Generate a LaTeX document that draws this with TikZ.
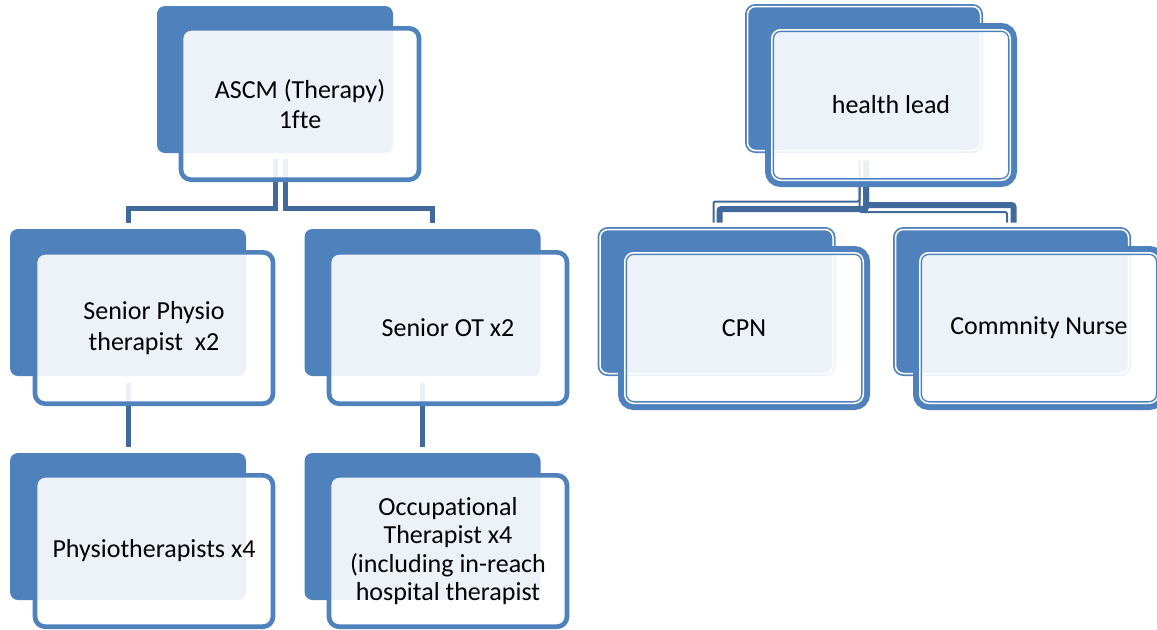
\documentclass[tikz,border=0pt]{standalone}
\usepackage{fontspec}
\setmainfont{Carlito}[Ligatures=NoCommon]
\usetikzlibrary{calc}
\definecolor{acc}{HTML}{4F81BD}
\definecolor{connc}{HTML}{41699C}
\tikzset{
  backL/.style={fill=acc, draw=none, rounded corners=6pt, minimum width=177pt, minimum height=110.25pt, inner sep=0pt, outer sep=0pt},
  frontL/.style={draw=acc, line width=3.5pt, fill=white, fill opacity=0.9, text opacity=1, rounded corners=7.5pt, minimum width=178.5pt, minimum height=113.5pt, inner sep=0pt, outer sep=0pt, align=center, font=\fontsize{19.5}{23}\selectfont},
  backR/.style={fill=acc, draw=acc, double=white, double distance=1.125pt, line width=1.3125pt, rounded corners=6pt, minimum width=174.75pt, minimum height=108pt, inner sep=0pt, outer sep=0pt},
  frontR/.style={draw=acc, line width=6.75pt, fill=white, fill opacity=0.9, text opacity=1, rounded corners=8.25pt, minimum width=182.25pt, minimum height=116.25pt, inner sep=0pt, outer sep=0pt, align=center, font=\fontsize{19.5}{23}\selectfont},
  innerline/.style={draw=white, line width=1.125pt, rounded corners=6.75pt},
  connL/.style={draw=connc, line width=3.75pt},
  connThick/.style={draw=connc, line width=4.5pt, rounded corners=1.5pt},
  connThin/.style={draw=connc, line width=1.5pt, rounded corners=1.5pt},
}
\begin{document}
\begin{tikzpicture}[x={(0.75pt,0)}, y={(0,-0.75pt)}]
\useasboundingbox (0,0) rectangle (1157,629);
\clip (0,0) rectangle (1157,629);
% ---------- back boxes ----------
\node[backL] (b1) at (275,79.5) {};
\node[backL] (b2) at (128,302.5) {};
\node[backL] (b3) at (422.5,302.5) {};
\node[backL] (b4) at (128,526.5) {};
\node[backL] (b5) at (422.5,526.5) {};
\node[backR] (hb) at (864,78.5) {};
\node[backR] (cb) at (716.5,301.5) {};
\node[backR] (nb) at (1012,301.5) {};
% ---------- connectors (left) ----------
\draw[connL] ($(b1.south)+(0.5,6)$) |- ($(b2.north)+(0,-21)$) -- ($(b2.north)+(0,-6)$);
\draw[connL] ($(b1.south)+(10,6)$) |- ($(b3.north)+(10,-21)$) -- ($(b3.north)+(10,-6)$);
\draw[connL] ($(b2.south)+(0,7)$) -- ($(b4.north)+(0,-6)$);
\draw[connL] ($(b3.south)+(0,7)$) -- ($(b5.north)+(0,-6)$);
% ---------- connectors (right) ----------
\draw[connThin] ($(hb.south)+(-4.5,10)$) |- ($(nb.north)+(-5,-17.5)$) -- ($(nb.north)+(-5,-7)$);
\draw[connThick] ($(hb.south)+(2,10)$) |- ($(nb.north)+(1.5,-24.5)$) -- ($(nb.north)+(1.5,-7)$);
\draw[connThin] ($(hb.south)+(-4.5,10)$) |- ($(cb.north)+(-3,-28)$) -- ($(cb.north)+(-3,-7)$);
\draw[connThick] ($(hb.south)+(2,10)$) |- ($(cb.north)+(3,-20.5)$) -- ($(cb.north)+(3,-7)$);
% ---------- front boxes ----------
\node[frontL] (f1) at (300,104) {ASCM (Therapy)\\1fte};
\node[frontL] (f2) at (154,328) {Senior Physio\\therapist\ \ x2};
\node[frontL] (f3) at (448,328) {Senior OT x2};
\node[frontL] (f4) at (154,551) {Physiotherapists x4};
\node[frontL, font=\fontsize{19.5}{21.4}\selectfont] (f5) at (448,551) {Occupational\\Therapist x4\\(including in-reach\\hospital therapist};
\node[frontR] (hf) at (891,105) {health lead};
\node[frontR] (cf) at (744,328) {CPN};
\node[frontR] (nf) at (1039,328) {Commnity Nurse};
\foreach \n in {hf,cf,nf}
  \draw[innerline] ($(\n.north west)+(2.25,2.25)$) rectangle ($(\n.south east)+(-2.25,-2.25)$);
\end{tikzpicture}
\end{document}
